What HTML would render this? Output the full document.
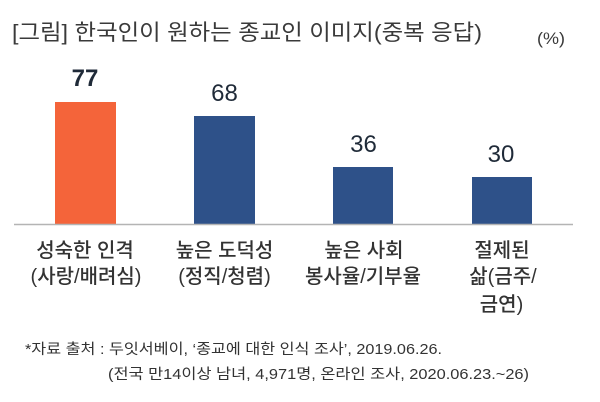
<!DOCTYPE html>
<html>
<head>
<meta charset="utf-8">
<style>
  html, body { margin:0; padding:0; background:#ffffff; }
  body { width:600px; height:402px; overflow:hidden; }
  svg { display:block; }
  .kr { font-family: "Liberation Sans", "Noto Sans CJK KR", sans-serif; }
</style>
</head>
<body>
<svg width="600" height="402" viewBox="0 0 600 402" xmlns="http://www.w3.org/2000/svg">
  <rect x="0" y="0" width="600" height="402" fill="#ffffff"/>

  <!-- Title -->
  <text class="kr" x="12" y="40" font-size="22" fill="#3a3a3a" textLength="470" lengthAdjust="spacingAndGlyphs">[그림] 한국인이 원하는 종교인 이미지(중복 응답)</text>
  <text class="kr" x="537" y="44" font-size="17" fill="#3a3a3a" textLength="28" lengthAdjust="spacingAndGlyphs">(%)</text>

  <!-- Bars -->
  <rect x="55" y="102" width="61" height="122.5" fill="#f4643a"/>
  <rect x="194" y="116" width="61" height="108.5" fill="#2e5189"/>
  <rect x="333" y="167" width="60" height="57.5" fill="#2e5189"/>
  <rect x="472" y="177" width="60" height="47.5" fill="#2e5189"/>

  <!-- Baseline -->
  <line x1="14" y1="224.5" x2="573" y2="224.5" stroke="#b4b4b4" stroke-width="1.5"/>

  <!-- Value labels -->
  <g font-family="Liberation Sans, sans-serif" fill="#1f2a38" text-anchor="middle" font-size="24">
    <text x="85" y="86" font-weight="bold">77</text>
    <text x="224.5" y="101">68</text>
    <text x="363.5" y="152">36</text>
    <text x="501" y="162">30</text>
  </g>

  <!-- Category labels -->
  <g class="kr" font-size="20" fill="#333333" text-anchor="middle" font-weight="500">
    <text x="85" y="257">성숙한 인격</text>
    <text x="86" y="283">(사랑/배려심)</text>
    <text x="224.5" y="257">높은 도덕성</text>
    <text x="224.5" y="283">(정직/청렴)</text>
    <text x="364" y="257">높은 사회</text>
    <text x="363" y="283">봉사율/기부율</text>
    <text x="502" y="257">절제된</text>
    <text x="503" y="283">삶(금주/</text>
    <text x="501.5" y="311">금연)</text>
  </g>

  <!-- Footnote -->
  <text class="kr" x="25" y="354" font-size="14.5" fill="#333333" textLength="417" lengthAdjust="spacingAndGlyphs">*자료 출처 : 두잇서베이, ‘종교에 대한 인식 조사’, 2019.06.26.</text>
  <text class="kr" x="108" y="379" font-size="14.5" fill="#333333" textLength="421" lengthAdjust="spacingAndGlyphs">(전국 만14이상 남녀, 4,971명, 온라인 조사, 2020.06.23.~26)</text>
</svg>
</body>
</html>
